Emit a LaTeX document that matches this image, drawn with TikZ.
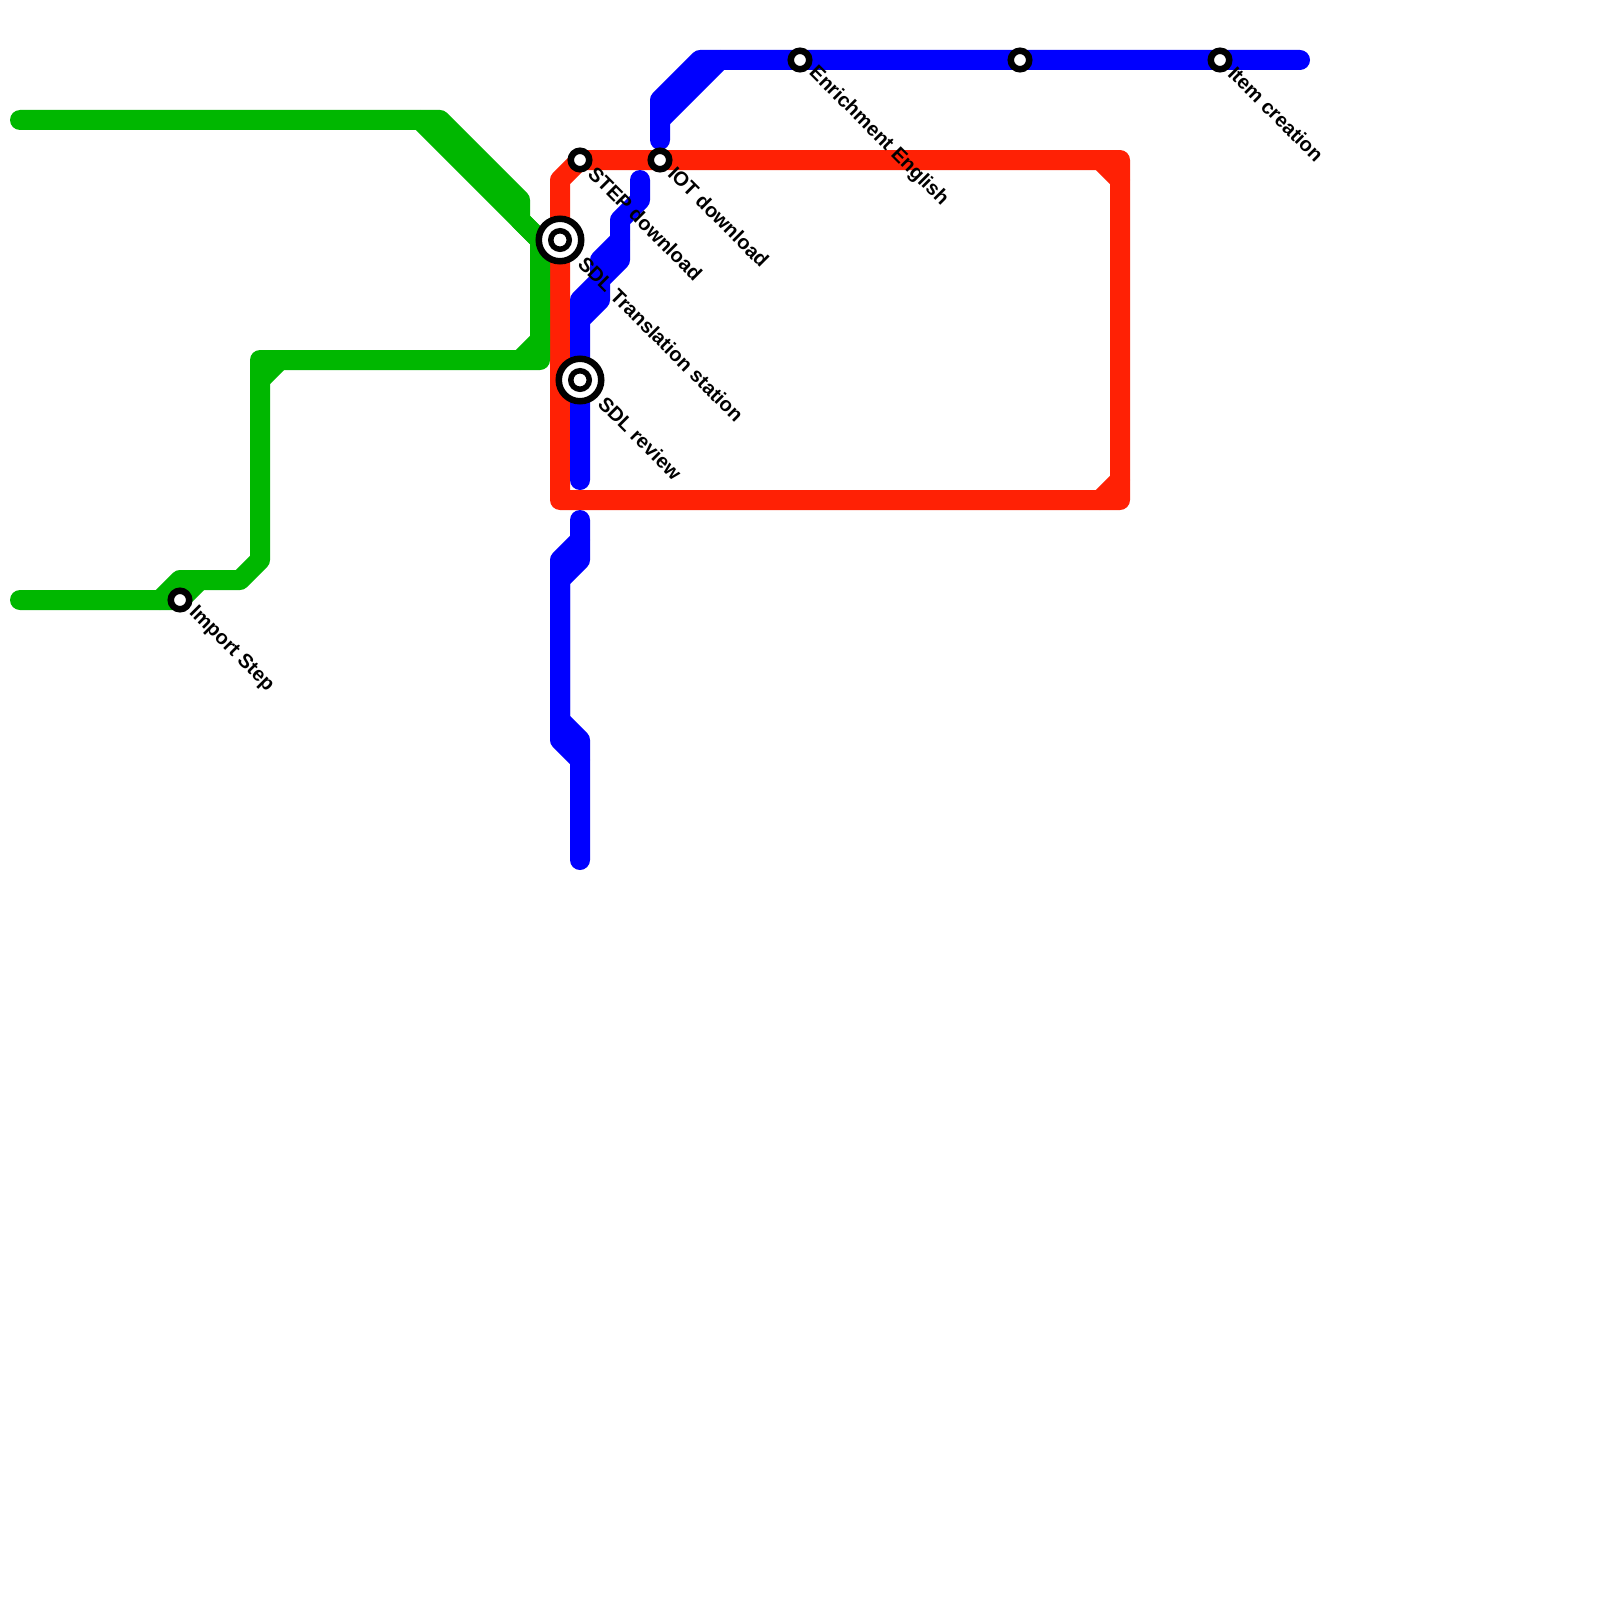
\documentclass[tikz,border=0pt]{standalone}
\usepackage{fontspec}
\setmainfont{Liberation Sans}
\definecolor{lgreen}{HTML}{00B700}
\definecolor{lred}{HTML}{FF2105}
\definecolor{lblue}{HTML}{0000FF}
\tikzset{
  x=1pt,y=-1pt,
  metro/.style={line width=20pt,line cap=round,line join=round},
  greenline/.style={metro,draw=lgreen},
  redline/.style={metro,draw=lred},
  blueline/.style={metro,draw=lblue},
  stationsmall/.style={circle,draw=black,fill=white,line width=6.5pt,minimum size=18.5pt,inner sep=0pt,outer sep=0pt},
  stationbig/.style={circle,draw=black,fill=white,line width=6.5pt,minimum size=42.5pt,inner sep=0pt,outer sep=0pt},
  stationcore/.style={circle,draw=black,fill=white,line width=5.5pt,minimum size=18.5pt,inner sep=0pt,outer sep=0pt},
  stationlabel/.style={rotate=-45,anchor=west,inner sep=0pt,outer sep=0pt,font=\bfseries\fontsize{20}{20}\selectfont,text=black},
}
\begin{document}
\begin{tikzpicture}
\useasboundingbox (0,0) rectangle (1600,1600);
\fill[white] (0,0) rectangle (1600,1600);
\coordinate (pImport) at (180,600);
\coordinate (pTrans) at (560,240);
\coordinate (pReview) at (580,380);
\coordinate (pStep) at (580,160);
\coordinate (pIot) at (660,160);
\coordinate (pEnrich) at (800,60);
\coordinate (pMid) at (1020,60);
\coordinate (pItem) at (1220,60);
% red
\draw[redline] (560,500) -- (560,180) -- (pStep) -- (pIot) -- (1120,160) -- (1120,500) -- cycle;
\draw[redline] (1100,160) -- (1120,180);
\draw[redline] (1100,500) -- (1120,480);
% green
\draw[greenline] (20,120) -- (440,120) -- (520,200) -- (520,220) -- (540,240);
\draw[greenline] (420,120) -- (540,240) -- (540,360) -- (260,360) -- (260,560) -- (240,580) -- (180,580) -- (160,600);
\draw[greenline] (540,340) -- (520,360);
\draw[greenline] (280,360) -- (260,380);
\draw[greenline] (20,600) -- (pImport) -- (200,580);
% blue
\draw[blueline] (1300,60) -- (pItem) -- (pMid) -- (pEnrich) -- (700,60) -- (660,100) -- (660,140);
\draw[blueline] (720,60) -- (660,120);
\draw[blueline] (640,180) -- (640,200) -- (620,220) -- (620,260) -- (600,280) -- (600,300) -- (580,320) -- (580,480);
\draw[blueline] (620,240) -- (600,260) -- (600,280) -- (580,300) -- (580,320);
\draw[blueline] (580,520) -- (580,560) -- (560,580) -- (560,740) -- (580,760) -- (580,860);
\draw[blueline] (580,540) -- (560,560) -- (560,720) -- (580,740) -- (580,760);
% stations
\node[stationsmall] (sImport) at (pImport) {};
\node[stationbig] (sTrans) at (pTrans) {};
\node[stationcore] (sTransC) at (pTrans) {};
\node[stationbig] (sReview) at (pReview) {};
\node[stationcore] (sReviewC) at (pReview) {};
\node[stationsmall] (sStep) at (pStep) {};
\node[stationsmall] (sIot) at (pIot) {};
\node[stationsmall] (sEnrich) at (pEnrich) {};
\node[stationsmall] (sMid) at (pMid) {};
\node[stationsmall] (sItem) at (pItem) {};
% labels
\node[stationlabel] (lImport) at (192,610) {Import Step};
\node[stationlabel] (lTrans) at (582,260) {SDL Translation station};
\node[stationlabel] (lReview) at (602,400) {SDL review};
\node[stationlabel] (lStep) at (592,170) {STEP download};
\node[stationlabel] (lIot) at (672,170) {IOT download};
\node[stationlabel] (lEnrich) at (812,70) {Enrichment English};
\node[stationlabel] (lItem) at (1232,70) {Item creation};
\end{tikzpicture}
\end{document}
